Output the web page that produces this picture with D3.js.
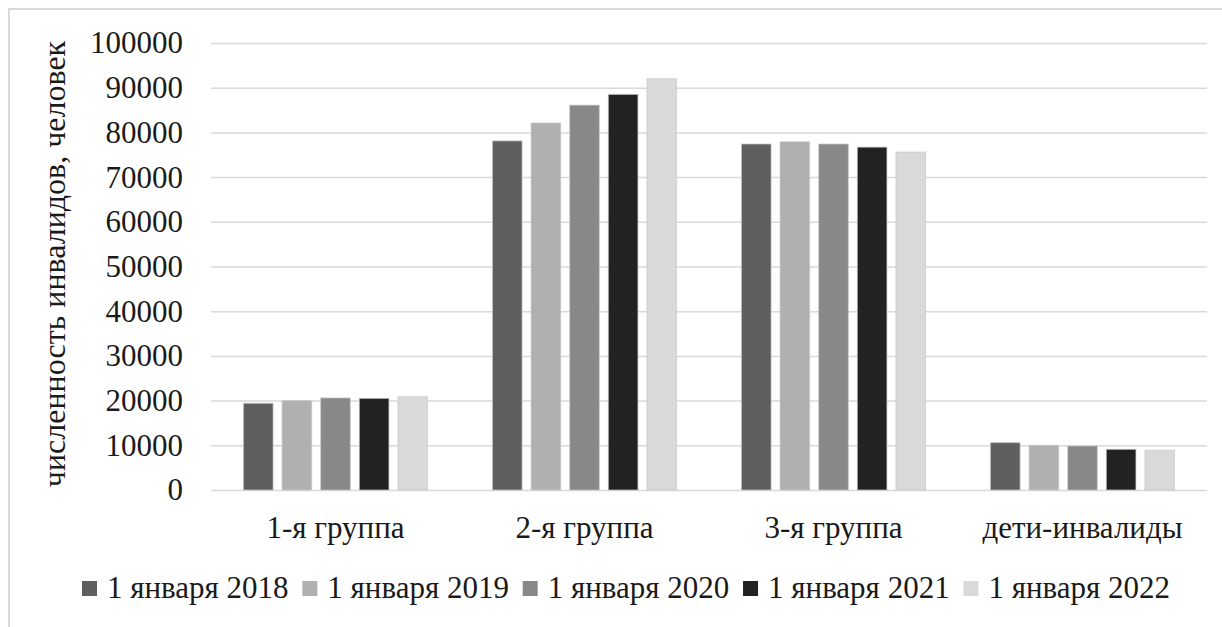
<!DOCTYPE html>
<html>
<head>
<meta charset="utf-8">
<script src="https://cdn.jsdelivr.net/npm/d3@7"></script>
<style>
  body { margin: 0; background: #fff; }
  svg { display: block; }
</style>
</head>
<body>
<div id="chart"></div>
<script>

var categories = ["1-я группа", "2-я группа", "3-я группа", "дети-инвалиды"];
var years = ["1 января 2018", "1 января 2019", "1 января 2020", "1 января 2021", "1 января 2022"];
var colors = ["#5f5f5f", "#b0b0b0", "#888888", "#222222", "#d9d9d9"];

// values per year, in order of categories
var v2018 = [19400, 78100, 77400, 10600];
var v2019 = [20000, 82100, 77900, 10000];
var v2020 = [20600, 86100, 77400, 9850];
var v2021 = [20500, 88500, 76700, 9100];
var v2022 = [20850, 92000, 75600, 8900];
var series = [v2018, v2019, v2020, v2021, v2022];

var yTicks = [0, 10000, 20000, 30000, 40000, 50000, 60000, 70000, 80000, 90000, 100000];
var yTitle = "численность инвалидов, человек";

var FONT = "'Liberation Serif', 'Times New Roman', serif";
var W = 1222, H = 627;
var plotL = 211, plotR = 1207, plotT = 43, plotB = 490;

var svg = d3.select("#chart").append("svg")
  .attr("width", W)
  .attr("height", H);

// outer frame
svg.append("rect")
  .attr("x", 9).attr("y", 9)
  .attr("width", 1240).attr("height", 650)
  .attr("fill", "none")
  .attr("stroke", "#d9d9d9")
  .attr("stroke-width", 2);

var y = d3.scaleLinear().domain([0, 100000]).range([plotB, plotT]);
var x0 = d3.scaleBand().domain(categories).range([plotL, plotR]);
var x1 = d3.scaleBand().domain(years).range([0, x0.bandwidth()])
  .paddingInner(0.233).paddingOuter(0.84);

// gridlines
svg.append("g")
  .attr("transform", "translate(" + plotL + ",0)")
  .call(d3.axisLeft(y).tickValues(yTicks).tickSize(-(plotR - plotL)).tickFormat(""))
  .call(function(g) {
    g.select(".domain").remove();
    g.selectAll("line").attr("stroke", "#d9d9d9").attr("stroke-width", 1.5);
  });

// y tick labels
svg.append("g")
  .attr("transform", "translate(" + (plotL - 28) + ",0)")
  .call(d3.axisLeft(y).tickValues(yTicks).tickSize(0).tickPadding(0).tickFormat(d3.format("d")))
  .call(function(g) {
    g.select(".domain").remove();
    g.selectAll("text")
      .style("font-family", FONT)
      .style("font-size", "31px")
      .attr("fill", "#1a1a1a");
  });

// bars
var groups = svg.append("g").selectAll("g")
  .data(categories)
  .enter().append("g")
  .attr("transform", function(d) { return "translate(" + x0(d) + ",0)"; });

groups.selectAll("rect")
  .data(function(d, ci) {
    return years.map(function(yr, si) { return { year: yr, i: si, value: series[si][ci] }; });
  })
  .enter().append("rect")
  .attr("x", function(d) { return x1(d.year); })
  .attr("width", x1.bandwidth())
  .attr("y", function(d) { return y(d.value); })
  .attr("height", function(d) { return plotB - y(d.value); })
  .attr("fill", function(d) { return colors[d.i]; })
  .attr("stroke", "#c8c8c8")
  .attr("stroke-opacity", 0.7)
  .attr("stroke-width", 1);

// category labels
svg.append("g")
  .attr("transform", "translate(0," + plotB + ")")
  .call(d3.axisBottom(x0).tickSize(0).tickPadding(0))
  .call(function(g) {
    g.select(".domain").remove();
    g.selectAll("text")
      .attr("dy", null)
      .attr("y", 48)
      .style("font-family", FONT)
      .style("font-size", "31px")
      .attr("fill", "#1a1a1a");
  });

// y title
svg.append("text")
  .attr("transform", "translate(65,264) rotate(-90)")
  .attr("text-anchor", "middle")
  .style("font-family", FONT)
  .style("font-size", "32px")
  .attr("fill", "#1a1a1a")
  .text(yTitle);

// legend: spread between x=82 and x=1170
var legend = svg.append("g");
var texts = years.map(function(yr) {
  return legend.append("text")
    .attr("y", 598)
    .style("font-family", FONT)
    .style("font-size", "31px")
    .attr("fill", "#1a1a1a")
    .text(yr);
});
var widths = texts.map(function(t) { return t.node().getComputedTextLength(); });
var gap = (1170 - 82 - d3.sum(widths) - 25 * years.length) / (years.length - 1);
var lx = 82;
years.forEach(function(yr, i) {
  legend.append("rect")
    .attr("x", lx).attr("y", 581)
    .attr("width", 15).attr("height", 15)
    .attr("fill", colors[i]);
  texts[i].attr("x", lx + 25);
  lx += 25 + widths[i] + gap;
});

</script>
</body>
</html>
